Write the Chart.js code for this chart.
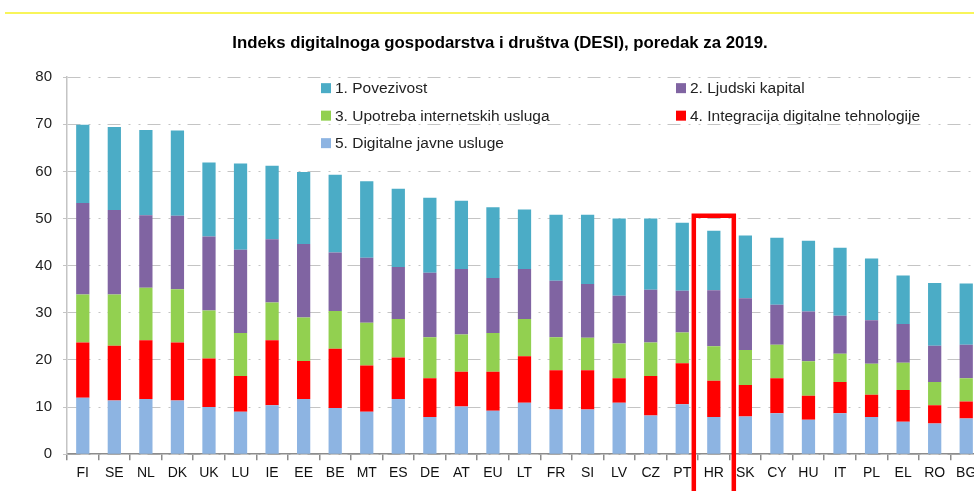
<!DOCTYPE html>
<html>
<head>
<meta charset="utf-8">
<script src="https://cdn.jsdelivr.net/npm/chart.js@4.4.1/dist/chart.umd.min.js"></script>
<style>
    html, body { margin: 0; padding: 0; background: #fff; overflow: hidden; }
    #wrap { position: relative; width: 990px; height: 491px; }
    #topLine { position: absolute; left: 5px; right: 0; top: 12px; height: 2px; background: #f8f55a; }
</style>
</head>
<body>
<div id="wrap">
    <div id="topLine"></div>
    <canvas id="reportChart"></canvas>
</div>
<script>
// države
var labels = ['FI', 'SE', 'NL', 'DK', 'UK', 'LU', 'IE', 'EE', 'BE', 'MT', 'ES', 'DE', 'AT', 'EU', 'LT',
    'FR', 'SI', 'LV', 'CZ', 'PT', 'HR', 'SK', 'CY', 'HU', 'IT', 'PL', 'EL', 'RO', 'BG'];

// 1. Povezivost
var povezivost = [16.6, 17.6, 18.1, 18.1, 15.7, 18.3, 15.6, 15.3, 16.5, 16.2, 16.6, 15.9, 14.5, 15.0, 12.6,
    14.0, 14.7, 16.4, 15.1, 14.4, 12.6, 13.3, 14.2, 15.0, 14.4, 13.1, 10.3, 13.3, 13.0];
// 2. Ljudski kapital
var ljudskiKapital = [19.4, 17.9, 15.4, 15.6, 15.7, 17.7, 13.4, 15.6, 12.4, 13.8, 11.0, 13.7, 13.9, 11.7, 10.6,
    12.0, 11.4, 10.1, 11.2, 8.9, 11.9, 11.0, 8.5, 10.6, 8.1, 9.2, 8.2, 7.7, 7.1];
// 3. Upotreba internetskih usluga
var upotreba = [10.2, 10.9, 11.1, 11.3, 10.2, 9.1, 8.0, 9.2, 8.0, 9.1, 8.2, 8.7, 7.9, 8.2, 7.9,
    7.0, 6.9, 7.4, 7.1, 6.5, 7.3, 7.4, 7.1, 7.3, 6.0, 6.6, 5.8, 4.9, 4.9];
// 4. Integracija digitalne tehnologije
var integracija = [11.7, 11.6, 12.5, 12.3, 10.3, 7.6, 13.8, 8.1, 12.6, 9.8, 8.8, 8.2, 7.4, 8.3, 9.9,
    8.3, 8.3, 5.2, 8.4, 8.7, 7.7, 6.7, 7.4, 5.1, 6.6, 4.7, 6.7, 3.9, 3.6];
// 5. Digitalne javne usluge
var javneUsluge = [12.0, 11.4, 11.7, 11.4, 10.0, 9.0, 10.4, 11.7, 9.8, 9.0, 11.7, 7.9, 10.1, 9.2, 10.9,
    9.5, 9.5, 10.9, 8.2, 10.6, 7.9, 8.0, 8.7, 7.3, 8.7, 7.9, 6.9, 6.5, 7.6];

var yTicks = [0, 10, 20, 30, 40, 50, 60, 70, 80];
var markedCountry = 'HR';
var markTop = 50.6;

var seriesNames = ['1. Povezivost', '2. Ljudski kapital', '3. Upotreba internetskih usluga',
    '4. Integracija digitalne tehnologije', '5. Digitalne javne usluge'];
var seriesColors = ['#4bacc6', '#8064a2', '#92d050', '#ff0000', '#8db4e2'];

var FONT = '"Liberation Sans", Arial, sans-serif';

// legenda u dva stupca unutar grafa
var legendPlugin = {
    id: 'boxLegend',
    afterDraw: function (chart) {
        var ctx = chart.ctx;
        var a = chart.chartArea;
        var cols = [a.left + 254, a.left + 609];
        var rows = [a.top + 11, a.top + 38.5, a.top + 66];
        ctx.save();
        ctx.font = '15.5px ' + FONT;
        ctx.textBaseline = 'middle';
        for (var i = 0; i < seriesNames.length; i++) {
            var x = cols[i % 2];
            var y = rows[Math.floor(i / 2)];
            ctx.fillStyle = seriesColors[i];
            ctx.fillRect(x, y - 5, 10, 10);
            ctx.fillStyle = '#222';
            ctx.fillText(seriesNames[i], x + 14, y + 1);
        }
        ctx.restore();
    }
};

// crveni okvir oko HR
var markPlugin = {
    id: 'markBox',
    afterDatasetsDraw: function (chart) {
        var ctx = chart.ctx;
        var xs = chart.scales.x;
        var ys = chart.scales.y;
        var cx = xs.getPixelForValue(labels.indexOf(markedCountry));
        var top = ys.getPixelForValue(markTop);
        ctx.save();
        ctx.strokeStyle = '#ff0000';
        ctx.lineWidth = 4.5;
        ctx.beginPath();
        ctx.moveTo(cx - 20, chart.height + 10);
        ctx.lineTo(cx - 20, top);
        ctx.lineTo(cx + 20, top);
        ctx.lineTo(cx + 20, chart.height + 10);
        ctx.stroke();
        ctx.restore();
    }
};

function RenderChart() {
    var parts = [javneUsluge, integracija, upotreba, ljudskiKapital, povezivost];
    var partNames = [seriesNames[4], seriesNames[3], seriesNames[2], seriesNames[1], seriesNames[0]];
    var partColors = [seriesColors[4], seriesColors[3], seriesColors[2], seriesColors[1], seriesColors[0]];
    var datasets = [];
    for (var i = 0; i < parts.length; i++) {
        datasets.push({
            label: partNames[i],
            data: parts[i],
            backgroundColor: partColors[i],
            borderWidth: 0,
            barPercentage: 0.42,
            categoryPercentage: 1
        });
    }

    var ctx = document.getElementById('reportChart').getContext('2d');
    new Chart(ctx, {
        type: 'bar',
        data: { labels: labels, datasets: datasets },
        options: {
            responsive: true,
            maintainAspectRatio: false,
            animation: false,
            layout: { padding: { left: 18, right: 8, top: 0, bottom: 4 } },
            plugins: {
                legend: { display: false },
                tooltip: { enabled: false },
                title: {
                    display: true,
                    text: 'Indeks digitalnoga gospodarstva i društva (DESI), poredak za 2019.',
                    color: '#000',
                    font: { family: FONT, size: 16.8, weight: 'bold' },
                    padding: { top: 33, bottom: 24 }
                }
            },
            scales: {
                x: {
                    stacked: true,
                    grid: { drawOnChartArea: false, drawTicks: true, tickLength: 6, color: '#8c8c8c', lineWidth: 1.5 },
                    border: { color: '#8c8c8c', width: 1.5 },
                    ticks: { color: '#111', font: { family: FONT, size: 14 }, padding: 5, maxRotation: 0, autoSkip: false }
                },
                y: {
                    stacked: true,
                    min: yTicks[0],
                    max: yTicks[yTicks.length - 1],
                    afterBuildTicks: function (scale) {
                        scale.ticks = yTicks.map(function (v) { return { value: v }; });
                    },
                    afterFit: function (scale) { scale.width = 49; },
                    grid: { color: '#c4c4c4', lineWidth: 1, tickLength: 4 },
                    border: { color: '#c4c4c4', width: 1.5, dash: [13, 8, 2, 8, 2, 7] },
                    ticks: { color: '#222', font: { family: FONT, size: 15 }, padding: 11 }
                }
            }
        },
        plugins: [legendPlugin, markPlugin]
    });
}

RenderChart();
</script>
</body>
</html>
